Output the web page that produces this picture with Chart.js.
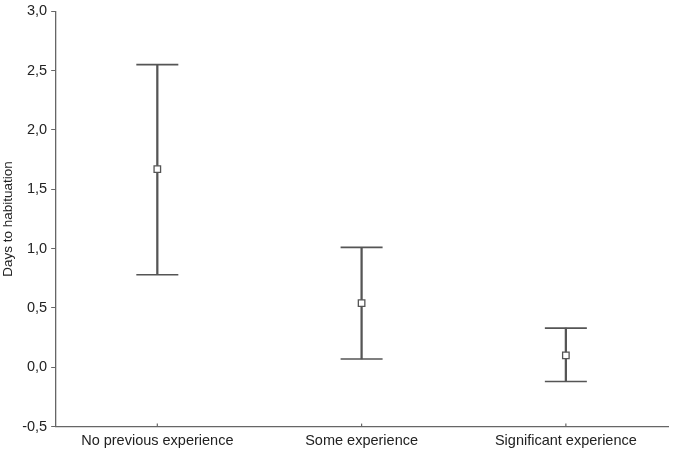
<!DOCTYPE html>
<html>
<head>
<meta charset="utf-8">
<script src="https://cdn.jsdelivr.net/npm/chart.js@4"></script>
<style>
html,body{margin:0;padding:0;background:#fff;}
#wrap{width:690px;height:450px;}
</style>
</head>
<body>
<div id="wrap"><canvas id="habChart"></canvas></div>
<script>
// Days to habituation by experience

const groups = ["No previous experience", "Some experience", "Significant experience"];

const means = [1.67, 0.54, 0.10];

const upper = [2.55, 1.01, 0.33];

const lower = [0.78, 0.07, -0.12];

const yTicks = [-0.5, 0, 0.5, 1, 1.5, 2, 2.5, 3];


const ink = "#555555";

const ranges = groups.map((g, i) => [lower[i], upper[i]]);


// small inward ticks on the category axis
const innerTicks = {
id: "innerTicks",
afterDraw(chart) {
const x = chart.scales.x;
const c = chart.ctx;
c.save();
c.strokeStyle = "#666666";
c.lineWidth = 1.2;
x.ticks.forEach((t, i) => {
const px = x.getPixelForTick(i);
c.beginPath();
c.moveTo(px, x.top);
c.lineTo(px, x.top - 3);
c.stroke();
});
c.restore();
}
};


const chart = new Chart(document.getElementById("habChart"), {

type: "bar",

data: {

labels: groups,

datasets: [

{
label: "range",
data: ranges,
backgroundColor: ink,
borderWidth: 0,
barThickness: 1.6,
order: 3
},

{
type: "line",
label: "upper",
data: upper,
showLine: false,
pointStyle: "line",
pointRadius: 21,
pointHoverRadius: 21,
borderColor: ink,
pointBorderWidth: 1.6,
clip: false,
order: 2
},

{
type: "line",
label: "lower",
data: lower,
showLine: false,
pointStyle: "line",
pointRadius: 21,
pointHoverRadius: 21,
borderColor: ink,
pointBorderWidth: 1.6,
clip: false,
order: 2
},

{
type: "line",
label: "mean",
data: means,
showLine: false,
pointStyle: "rect",
pointRadius: 4.6,
pointHoverRadius: 4.6,
pointBackgroundColor: "#ffffff",
pointBorderColor: ink,
pointBorderWidth: 1.3,
clip: false,
order: 1
}

]

},

options: {

responsive: true,
maintainAspectRatio: false,
animation: false,

layout: {
padding: { top: -3, right: 22, left: 0, bottom: -6 }
},

plugins: {
legend: { display: false },
tooltip: { enabled: false }
},

scales: {

x: {
grid: { display: false, drawTicks: false },
border: { color: "#666666", width: 1.3 },
ticks: {
color: "#222222",
font: { family: "Liberation Sans, Arial", size: 14.5 },
padding: 6
}
},

y: {
min: -0.5,
max: 3,
afterBuildTicks: axis => {
axis.ticks = yTicks.map(v => ({ value: v }));
},
grid: {
drawOnChartArea: false,
drawTicks: true,
tickLength: 4,
color: "#666666"
},
border: { color: "#666666", width: 1.3 },
ticks: {
color: "#222222",
font: { family: "Liberation Sans, Arial", size: 14.5, lineHeight: 1 },
padding: 4,
callback: v => v.toFixed(1).replace(".", ",")
},
title: {
display: true,
text: "Days to habituation",
color: "#222222",
font: { family: "Liberation Sans, Arial", size: 13.5 },
padding: { top: 0, bottom: 2 }
}
}

}

},

plugins: [innerTicks]

});


// the wide cap markers should not push the plot area inwards
[1, 2, 3].forEach(k => {
chart.getDatasetMeta(k).controller.getMaxOverflow = () => 0;
});

chart.update();
</script>
</body>
</html>
